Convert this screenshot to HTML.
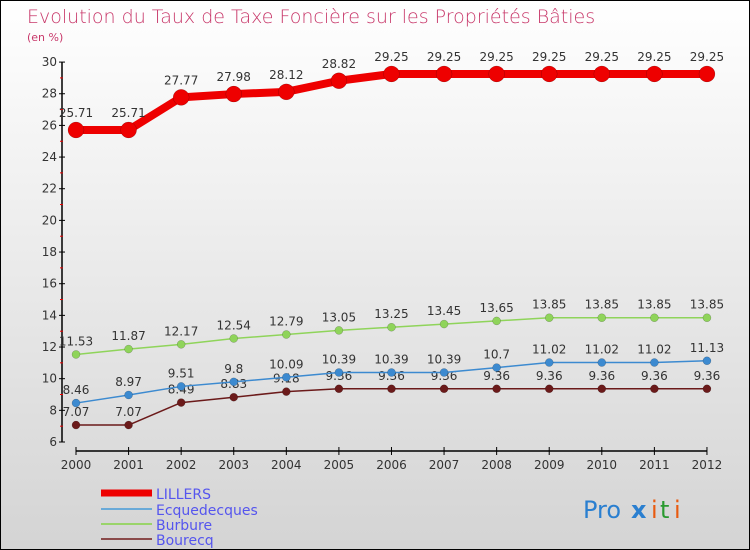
<!DOCTYPE html>
<html><head><meta charset="utf-8">
<style>
body{margin:0}
#wrap{position:relative;width:748px;height:548px;border:1px solid #000;background:linear-gradient(#ffffff,#d4d4d4);overflow:hidden;font-family:"DejaVu Sans","Liberation Sans",sans-serif}
</style></head><body>
<div id="wrap">
<svg id="svg" width="748" height="548">
<text x="26" y="22" font-size="19" fill="#c8386a" font-weight="300">Evolution du Taux de Taxe Foncière sur les Propriétés Bâties</text>
<text x="26" y="40" font-size="11" fill="#c8386a">(en %)</text>
<g id="axes"></g><g id="series"></g><g id="legend"></g>
<g font-size="24" font-family="DejaVu Sans, sans-serif">
<text x="582" y="517" fill="#2a7fd0">Pro</text><text x="630" y="517" fill="#2a7fd0" font-weight="bold">x</text><text x="650" y="517" fill="#e85a10">i</text><text x="659" y="517" fill="#2a9a30">t</text><text x="673" y="517" fill="#e85a10">i</text>
</g>
</svg>
</div>
<script>
const years=[2000,2001,2002,2003,2004,2005,2006,2007,2008,2009,2010,2011,2012];
const lillers=[25.71,25.71,27.77,27.98,28.12,28.82,29.25,29.25,29.25,29.25,29.25,29.25,29.25];
const ecque=[8.46,8.97,9.51,9.8,10.09,10.39,10.39,10.39,10.7,11.02,11.02,11.02,11.13];
const burbure=[11.53,11.87,12.17,12.54,12.79,13.05,13.25,13.45,13.65,13.85,13.85,13.85,13.85];
const bourecq=[7.07,7.07,8.49,8.83,9.18,9.36,9.36,9.36,9.36,9.36,9.36,9.36,9.36];
const yTicks=[6,8,10,12,14,16,18,20,22,24,26,28,30];
const NS="http://www.w3.org/2000/svg";
const X=i=>75+i*52.58, Y=v=>441-(v-6)*15.83;
function mk(t,a,p){const e=document.createElementNS(NS,t);for(const k in a)e.setAttribute(k,a[k]);(p||document.getElementById('axes')).appendChild(e);return e;}
const ax=document.getElementById('axes');
let e=mk('line',{x1:61,y1:Y(30),x2:61,y2:Y(6),stroke:'#000','stroke-width':1.5});

e=mk('line',{x1:X(0),y1:450,x2:X(12),y2:450,stroke:'#000','stroke-width':1.5});

yTicks.forEach(v=>{
 mk('line',{x1:58,y1:Y(v),x2:64,y2:Y(v),stroke:'#000'});
 if(v<30) mk('line',{x1:59,y1:Y(v+1),x2:62,y2:Y(v+1),stroke:'#e00'});
 const t=mk('text',{x:56,y:Y(v)+4,'font-size':12,fill:'#333','text-anchor':'end'});t.textContent=v;
 
});
years.forEach((y,i)=>{
 mk('line',{x1:X(i),y1:446,x2:X(i),y2:454,stroke:'#000'});
 const t=mk('text',{x:X(i),y:468,'font-size':12,fill:'#333','text-anchor':'middle'});t.textContent=y;
 
});
const sg=document.getElementById('series');
function series(name,data,color,w,r,lab){
 const g=mk('g',{},sg);
 
 const l=mk('polyline',{points:data.map((v,i)=>X(i)+','+Y(v)).join(' '),fill:'none',stroke:color,'stroke-width':w,'stroke-linejoin':'round'},g);
 
 data.forEach((v,i)=>{
  const c=mk('circle',{cx:X(i),cy:Y(v),r:r,fill:color,stroke:'rgba(0,0,0,0.3)','stroke-width':0.5},g);
  
  const t=mk('text',{x:X(i),y:Y(v)-lab,'font-size':12,fill:'#333','text-anchor':'middle'},g);t.textContent=v;
  
 });
}
series('bourecq',bourecq,'#6b1a1a',1.5,4,9);
series('burbure',burbure,'#8fd45a',1.5,4,9);
series('ecquedecques',ecque,'#3c8ad0',1.5,4,9);
series('lillers',lillers,'#ee0000',8,8,13);
const lg=document.getElementById('legend');
[['LILLERS','#ee0000',7,492],['Ecquedecques','#6aaad8',2,508],['Burbure','#9ad46a',2,523],['Bourecq','#8a4a4a',2,538]].forEach(d=>{
 const g=mk('g',{},lg);
 mk('line',{x1:100,y1:d[3],x2:151,y2:d[3],stroke:d[1],'stroke-width':d[2]},g);
 const t=mk('text',{x:155,y:d[3]+6,'font-size':14,fill:'#5555ee'},g);t.textContent=d[0];
});
</script>
</body></html>
